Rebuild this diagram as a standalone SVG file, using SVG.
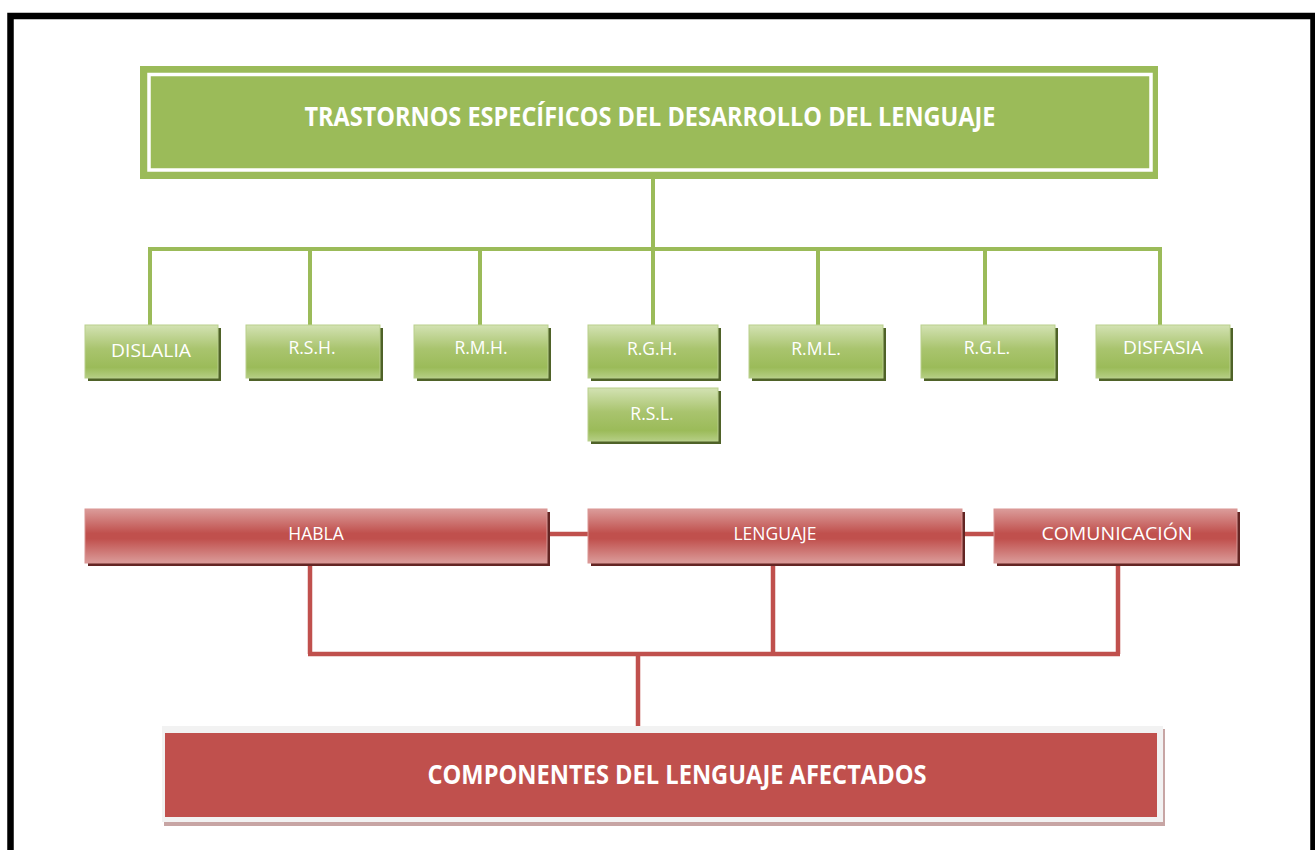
<svg xmlns="http://www.w3.org/2000/svg" width="1315" height="850" viewBox="0 0 1315 850">
<style>
.gl{fill:none;stroke:#9BBB59;stroke-width:4}
.rl{fill:none;stroke:#C0504D;stroke-width:4.5}
.gbox{fill:url(#gg);stroke:#B9CF8C;stroke-width:1}
.gsh{fill:#4F6228}
.rbox{fill:url(#rg);stroke:#D99694;stroke-width:1}
.rsh{fill:#632523}
.t{font-family:"Open Sans","Liberation Sans",sans-serif;fill:#FFFFFF;text-anchor:middle}
.sm{font-size:17.5px}
.big{font-size:27px;font-weight:bold}
</style>
<defs>
<linearGradient id="gg" x1="0" y1="0" x2="0" y2="1">
<stop offset="0" stop-color="#D3E2B3"/>
<stop offset="0.45" stop-color="#A9C46E"/>
<stop offset="0.8" stop-color="#9BBB59"/>
<stop offset="1" stop-color="#B5CE84"/>
</linearGradient>
<linearGradient id="rg" x1="0" y1="0" x2="0" y2="1">
<stop offset="0" stop-color="#DB9C9A"/>
<stop offset="0.45" stop-color="#C0504D"/>
<stop offset="0.55" stop-color="#C0504D"/>
<stop offset="1" stop-color="#DB9C9A"/>
</linearGradient>
</defs>
<rect x="0" y="0" width="1315" height="850" fill="#FFFFFF"/>
<rect x="10.5" y="16" width="1303" height="850" fill="none" stroke="#000000" stroke-width="6.5"/>

<g id="connectors">
<path class="gl" d="M653 179V249M150 249H1160M150 247V325M310 249V325M480 249V325M653 249V325M818 249V325M985 249V325M1160 247V325"/>
<path class="rl" d="M548 534H588M963 534H994M310 563V654M773 563V654M1118 563V654M308 654H1120M638 654V730"/>
</g>

<g id="title">
<rect x="140" y="66" width="1018" height="113" fill="#9BBB59"/>
<rect x="149" y="74.5" width="1002" height="95.5" fill="none" stroke="#FFFFFF" stroke-width="3.5"/>
<text class="t big" x="650" y="126" textLength="691" lengthAdjust="spacingAndGlyphs">TRASTORNOS ESPECÍFICOS DEL DESARROLLO DEL LENGUAJE</text>
</g>

<g id="dislalia">
<rect class="gsh" x="88" y="328" width="133" height="53"/>
<rect class="gbox" x="85" y="325" width="133" height="53"/>
<text class="t sm" x="151" y="357" textLength="80" lengthAdjust="spacingAndGlyphs">DISLALIA</text>
</g>
<g id="rsh">
<rect class="gsh" x="249" y="328" width="134" height="53"/>
<rect class="gbox" x="246" y="325" width="134" height="53"/>
<text class="t sm" x="312" y="354">R.S.H.</text>
</g>
<g id="rmh">
<rect class="gsh" x="417" y="328" width="134" height="53"/>
<rect class="gbox" x="414" y="325" width="134" height="53"/>
<text class="t sm" x="481" y="354">R.M.H.</text>
</g>
<g id="rgh">
<rect class="gsh" x="591" y="328" width="130" height="53"/>
<rect class="gbox" x="588" y="325" width="130" height="53"/>
<text class="t sm" x="652" y="355">R.G.H.</text>
</g>
<g id="rsl">
<rect class="gsh" x="591" y="391" width="130" height="53"/>
<rect class="gbox" x="588" y="388" width="130" height="53"/>
<text class="t sm" x="652" y="420">R.S.L.</text>
</g>
<g id="rml">
<rect class="gsh" x="752" y="328" width="134" height="53"/>
<rect class="gbox" x="749" y="325" width="134" height="53"/>
<text class="t sm" x="816" y="355">R.M.L.</text>
</g>
<g id="rgl">
<rect class="gsh" x="924" y="328" width="134" height="53"/>
<rect class="gbox" x="921" y="325" width="134" height="53"/>
<text class="t sm" x="987" y="354">R.G.L.</text>
</g>
<g id="disfasia">
<rect class="gsh" x="1099" y="328" width="134" height="53"/>
<rect class="gbox" x="1096" y="325" width="134" height="53"/>
<text class="t sm" x="1163" y="354" textLength="80" lengthAdjust="spacingAndGlyphs">DISFASIA</text>
</g>

<g id="habla">
<rect class="rsh" x="88" y="512" width="462" height="54"/>
<rect class="rbox" x="85" y="509" width="462" height="54"/>
<text class="t sm" x="316" y="540">HABLA</text>
</g>
<g id="lenguaje">
<rect class="rsh" x="591" y="512" width="374" height="54"/>
<rect class="rbox" x="588" y="509" width="374" height="54"/>
<text class="t sm" x="775" y="540">LENGUAJE</text>
</g>
<g id="comunicacion">
<rect class="rsh" x="997" y="512" width="243" height="54"/>
<rect class="rbox" x="994" y="509" width="243" height="54"/>
<text class="t sm" x="1117" y="540" textLength="151" lengthAdjust="spacingAndGlyphs">COMUNICACIÓN</text>
</g>

<g id="componentes">
<rect x="164" y="729" width="1001" height="97" fill="#C7A5A4"/>
<rect x="162" y="726" width="1001" height="96" fill="#F2F2F2"/>
<rect x="165" y="733" width="992" height="84" fill="#C0504D"/>
<text class="t big" x="677" y="784" textLength="499" lengthAdjust="spacingAndGlyphs">COMPONENTES DEL LENGUAJE AFECTADOS</text>
</g>
</svg>
